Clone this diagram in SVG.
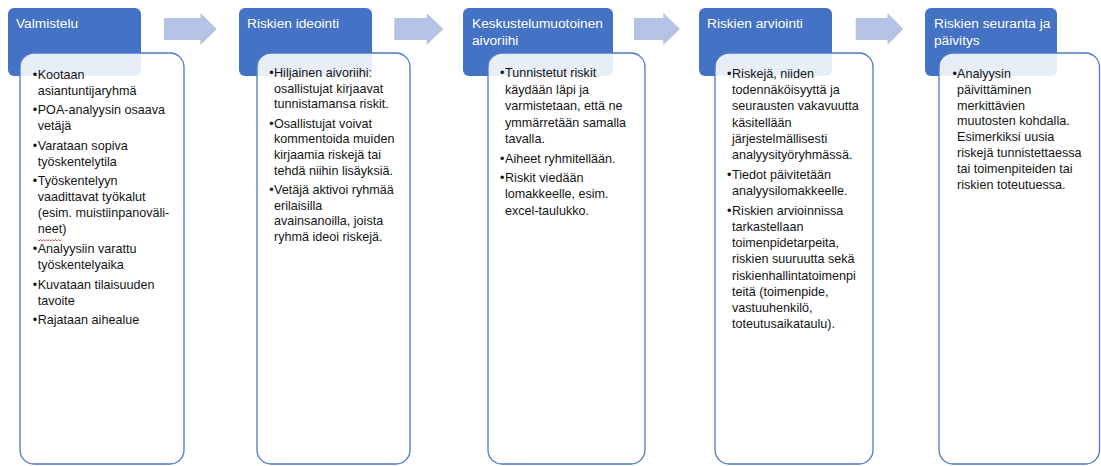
<svg xmlns="http://www.w3.org/2000/svg" width="1101" height="466" viewBox="0 0 1101 466">
<style>
.hdr{fill:#4472C4;}
.card{fill:#ffffff;fill-opacity:0.88;stroke:#4a78c9;stroke-width:1.3;}
.arrow{fill:#B4C2E4;}
.ht{font-family:"Liberation Sans",Arial,sans-serif;font-size:13.7px;fill:#ffffff;}
.bt{font-family:"Liberation Sans",Arial,sans-serif;font-size:12.6px;fill:#141414;}
.sq{fill:none;stroke:#e03030;stroke-width:0.8;}
</style>
<rect width="1101" height="466" fill="#ffffff"/>
<g id="connectors">
<polygon class="arrow" points="164,18 200.5,18 200.5,13 216.7,29 200.5,45 200.5,40 164,40"/>
<polygon class="arrow" points="394.3,18 426.7,18 426.7,13 443.3,29 426.7,45 426.7,40 394.3,40"/>
<polygon class="arrow" points="634,18 663.3,18 663.3,13 680,29 663.3,45 663.3,40 634,40"/>
<polygon class="arrow" points="855.7,18 887.5,18 887.5,13 903.3,29 887.5,45 887.5,40 855.7,40"/>
</g>
<g id="node-valmistelu">
<rect class="hdr" x="8" y="8" width="133" height="68" rx="6"/>
<text class="ht" x="16" y="28">Valmistelu</text>
<rect class="card" x="20" y="53" width="164" height="411" rx="14"/>
<g class="bt">
<text x="32.8" y="78.5">•</text><text x="37.7" y="78.5">Kootaan</text>
<text x="37.7" y="94.5">asiantuntijaryhmä</text>
<text x="32.8" y="114.1">•</text><text x="37.7" y="114.1">POA-analyysin osaava</text>
<text x="37.7" y="130.1">vetäjä</text>
<text x="32.8" y="149.7">•</text><text x="37.7" y="149.7">Varataan sopiva</text>
<text x="37.7" y="165.7">työskentelytila</text>
<text x="32.8" y="185.3">•</text><text x="37.7" y="185.3">Työskentelyyn</text>
<text x="37.7" y="201.3">vaadittavat työkalut</text>
<text x="37.7" y="217.3">(esim. muistiinpanoväli-</text>
<text x="37.7" y="233.3">neet)</text>
<text x="32.8" y="252.9">•</text><text x="37.7" y="252.9">Analyysiin varattu</text>
<text x="37.7" y="268.9">työskentelyaika</text>
<text x="32.8" y="288.5">•</text><text x="37.7" y="288.5">Kuvataan tilaisuuden</text>
<text x="37.7" y="304.5">tavoite</text>
<text x="32.8" y="324.1">•</text><text x="37.7" y="324.1">Rajataan aihealue</text>
</g>
<path class="sq" d="M37.5,239.5 l1.5,1.5 l1.5,-1.5 l1.5,1.5 l1.5,-1.5 l1.5,1.5 l1.5,-1.5 l1.5,1.5 l1.5,-1.5 l1.5,1.5 l1.5,-1.5 l1.5,1.5 l1.5,-1.5 l1.5,1.5 l1.5,-1.5 l1.5,1.5 l1.5,-1.5"/>
</g>
<g id="node-riskien-ideointi">
<rect class="hdr" x="239" y="8" width="133" height="68" rx="6"/>
<text class="ht" x="247" y="28">Riskien ideointi</text>
<rect class="card" x="257" y="53" width="153" height="411" rx="14"/>
<g class="bt">
<text x="269.2" y="76.8">•</text><text x="274" y="76.8">Hiljainen aivoriihi:</text>
<text x="274" y="92.5">osallistujat kirjaavat</text>
<text x="274" y="108.2">tunnistamansa riskit.</text>
<text x="269.2" y="127.5">•</text><text x="274" y="127.5">Osallistujat voivat</text>
<text x="274" y="143.2">kommentoida muiden</text>
<text x="274" y="158.9">kirjaamia riskejä tai</text>
<text x="274" y="174.6">tehdä niihin lisäyksiä.</text>
<text x="269.2" y="193.9">•</text><text x="274" y="193.9">Vetäjä aktivoi ryhmää</text>
<text x="274" y="209.6">erilaisilla</text>
<text x="274" y="225.3">avainsanoilla, joista</text>
<text x="274" y="241">ryhmä ideoi riskejä.</text>
</g>
</g>
<g id="node-keskustelumuotoinen-aivoriihi">
<rect class="hdr" x="463" y="8" width="150" height="68" rx="6"/>
<text class="ht" x="472" y="28">Keskustelumuotoinen</text>
<text class="ht" x="472" y="45">aivoriihi</text>
<rect class="card" x="488" y="53" width="157" height="411" rx="14"/>
<g class="bt">
<text x="500" y="77.3">•</text><text x="505" y="77.3">Tunnistetut riskit</text>
<text x="505" y="93.8">käydään läpi ja</text>
<text x="505" y="110.3">varmistetaan, että ne</text>
<text x="505" y="126.8">ymmärretään samalla</text>
<text x="505" y="143.3">tavalla.</text>
<text x="500" y="162.6">•</text><text x="505" y="162.6">Aiheet ryhmitellään.</text>
<text x="500" y="181.9">•</text><text x="505" y="181.9">Riskit viedään</text>
<text x="505" y="198.4">lomakkeelle, esim.</text>
<text x="505" y="214.9">excel-taulukko.</text>
</g>
</g>
<g id="node-riskien-arviointi">
<rect class="hdr" x="699" y="8" width="133" height="68" rx="6"/>
<text class="ht" x="707" y="28">Riskien arviointi</text>
<rect class="card" x="715" y="53" width="158" height="411" rx="14"/>
<g class="bt">
<text x="727" y="78">•</text><text x="732" y="78">Riskejä, niiden</text>
<text x="732" y="94.2">todennäköisyyttä ja</text>
<text x="732" y="110.4">seurausten vakavuutta</text>
<text x="732" y="126.6">käsitellään</text>
<text x="732" y="142.8">järjestelmällisesti</text>
<text x="732" y="159">analyysityöryhmässä.</text>
<text x="727" y="178.8">•</text><text x="732" y="178.8">Tiedot päivitetään</text>
<text x="732" y="195">analyysilomakkeelle.</text>
<text x="727" y="214.8">•</text><text x="732" y="214.8">Riskien arvioinnissa</text>
<text x="732" y="231">tarkastellaan</text>
<text x="732" y="247.2">toimenpidetarpeita,</text>
<text x="732" y="263.4">riskien suuruutta sekä</text>
<text x="732" y="279.6">riskienhallintatoimenpi</text>
<text x="732" y="295.8">teitä (toimenpide,</text>
<text x="732" y="312">vastuuhenkilö,</text>
<text x="732" y="328.2">toteutusaikataulu).</text>
</g>
</g>
<g id="node-riskien-seuranta">
<rect class="hdr" x="925" y="8" width="132" height="68" rx="6"/>
<text class="ht" x="934" y="28">Riskien seuranta ja</text>
<text class="ht" x="934" y="45">päivitys</text>
<rect class="card" x="939" y="53" width="160.5" height="411" rx="14"/>
<g class="bt">
<text x="952.5" y="78">•</text><text x="957" y="78">Analyysin</text>
<text x="957" y="93.8">päivittäminen</text>
<text x="957" y="109.6">merkittävien</text>
<text x="957" y="125.4">muutosten kohdalla.</text>
<text x="957" y="141.2">Esimerkiksi uusia</text>
<text x="957" y="157">riskejä tunnistettaessa</text>
<text x="957" y="172.8">tai toimenpiteiden tai</text>
<text x="957" y="188.6">riskien toteutuessa.</text>
</g>
</g>
</svg>
